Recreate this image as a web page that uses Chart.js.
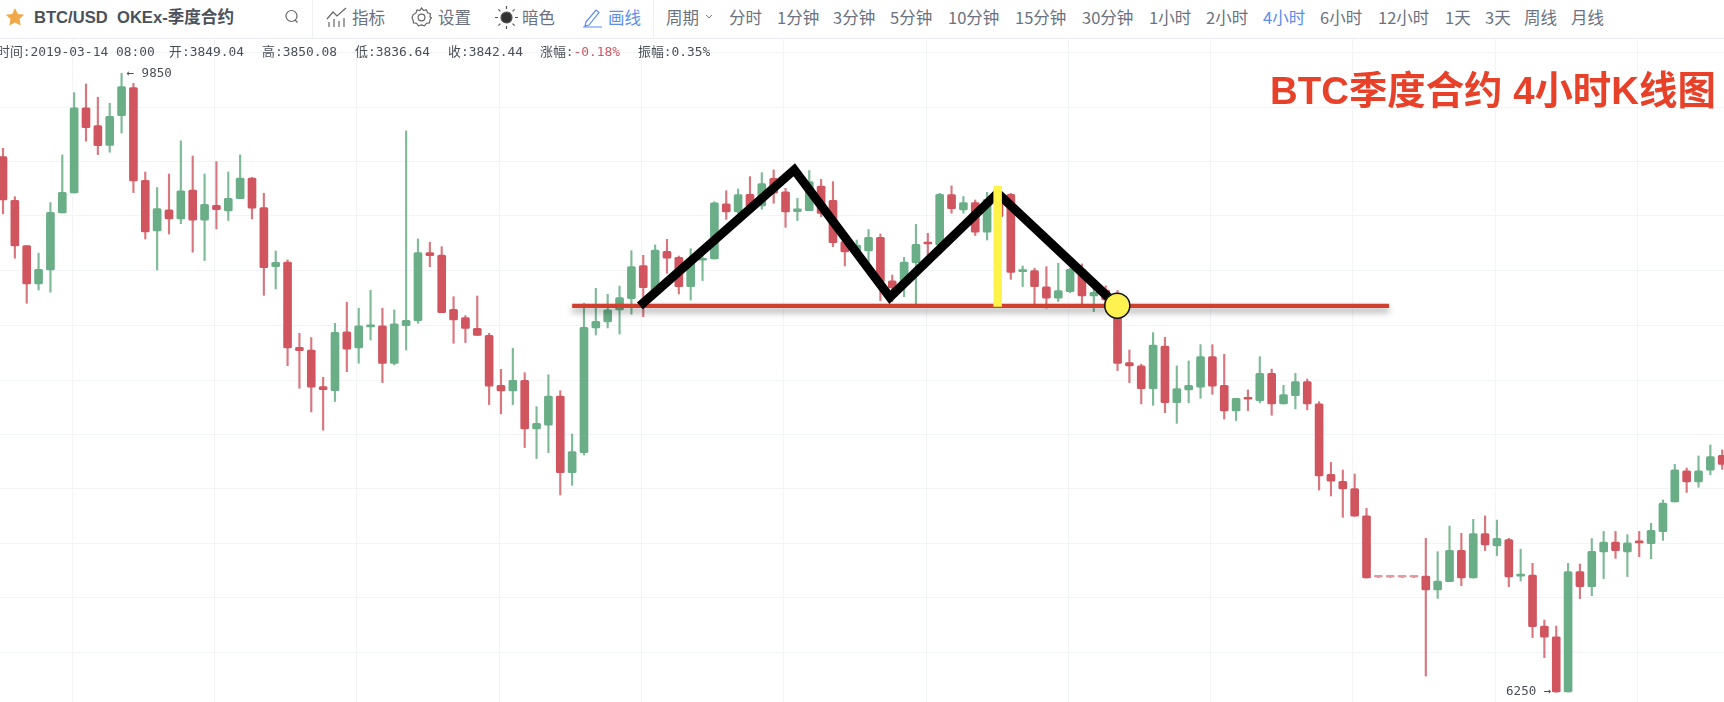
<!DOCTYPE html>
<html>
<head>
<meta charset="utf-8">
<title>BTC季度合约 4小时K线图</title>
<script src="https://cdn.jsdelivr.net/npm/chart.js@4"></script>
<style>
  html, body { margin: 0; padding: 0; background: #fff; width: 1724px; height: 702px; overflow: hidden; }
  #chart { position: absolute; left: 0; top: 39px; }
  #toolbar { position: absolute; left: 0; top: 0; width: 1724px; height: 38px; border-bottom: 1px solid #e9ebf2; background: #fff; }
  .t { position: absolute; white-space: nowrap; font-family: "Noto Sans CJK SC", "Noto Sans", sans-serif; }
  #toolbar .t { top: 6px; font-size: 16.5px; line-height: 23px; color: #6a7280; }
  #toolbar svg { position: absolute; }
  .sep { position: absolute; top: 0; width: 1px; height: 38px; background: #eef0f4; }
  .info { top: 44px; font-family: "DejaVu Sans Mono", "Noto Sans CJK SC", monospace; font-size: 12.9px; line-height: 16px; color: #4a4f57; }
  #title { left: 1270px; top: 64px; font-family: "Liberation Sans", "Noto Sans CJK SC", sans-serif; font-weight: 700; font-size: 38.4px; line-height: 54px; color: #e8412a; }
</style>
</head>
<body>
<canvas id="chart" width="1724" height="663"></canvas>

<div id="toolbar">
  <svg style="left:5px;top:7px" width="20" height="20" viewBox="0 0 20 20"><path d="M10 1l2.8 5.9 6.4.8-4.7 4.4 1.2 6.4L10 15.4l-5.7 3.1 1.2-6.4L.8 7.7l6.4-.8z" fill="#f0a848"/></svg>
  <span class="t" style="left:34px;font-weight:700;font-size:16.6px;color:#4a515b;font-family:'Liberation Sans','Noto Sans CJK SC',sans-serif">BTC/USD&nbsp; OKEx-季度合约</span>
  <svg style="left:284px;top:9px" width="16" height="16" viewBox="0 0 16 16" fill="none" stroke="#666" stroke-width="1.2"><circle cx="7.5" cy="7" r="5.5"/><path d="M11 11l2.5 2.5"/></svg>
  <div class="sep" style="left:312px"></div>
  <svg style="left:326px;top:7px" width="22" height="21" viewBox="0 0 22 21" fill="none" stroke="#666" stroke-width="1.2"><path d="M1 12l6-7 4 4 9-8M3 20v-5M8 20v-8M13 20v-6M18 20v-9"/></svg>
  <span class="t" style="left:352px">指标</span>
  <svg style="left:411px;top:7px" width="21" height="21" viewBox="0 0 21 21" fill="none" stroke="#666" stroke-width="1.2"><path d="M10.5 1l2 2.4 3-.5 1 2.9 3 1-.6 3.2 1.6 1-1.6 2-.4 2.9-3 .3-2 2.7-3-1-3 1-2-2.7-3-.3-.4-2.9L1 11l1.1-3.2 2.9-1.9 1-2.9 3 .5z"/><circle cx="10.5" cy="10.5" r="3.4"/></svg>
  <span class="t" style="left:438px">设置</span>
  <svg style="left:495px;top:6px" width="23" height="23" viewBox="0 0 23 23" fill="none" stroke="#555" stroke-width="1.2"><circle cx="11.5" cy="11.5" r="5.5" fill="#333"/><path d="M11.5 0v3M11.5 20v3M0 11.5h3M20 11.5h3M3.4 3.4l2 2M17.6 17.6l2 2M3.4 19.6l2-2M17.6 5.4l2-2"/></svg>
  <span class="t" style="left:522px">暗色</span>
  <svg style="left:582px;top:7px" width="21" height="21" viewBox="0 0 21 21" fill="none" stroke="#5b8def" stroke-width="1.2"><path d="M4 15L14 3l3 2.5L7 18l-4 1zM1 20h19"/></svg>
  <span class="t" style="left:608px;color:#5b8def">画线</span>
  <div class="sep" style="left:653px"></div>
  <span class="t" style="left:666px">周期</span>
  <svg style="left:705px;top:14px" width="8" height="6" viewBox="0 0 8 6" fill="none" stroke="#777"><path d="M1 1l3 3 3-3"/></svg>
  <span class="t" style="left:729px">分时</span>
  <span class="t" style="left:777px">1分钟</span>
  <span class="t" style="left:833px">3分钟</span>
  <span class="t" style="left:890px">5分钟</span>
  <span class="t" style="left:948px">10分钟</span>
  <span class="t" style="left:1015px">15分钟</span>
  <span class="t" style="left:1082px">30分钟</span>
  <span class="t" style="left:1149px">1小时</span>
  <span class="t" style="left:1206px">2小时</span>
  <span class="t" style="left:1263px;color:#5b8def">4小时</span>
  <span class="t" style="left:1320px">6小时</span>
  <span class="t" style="left:1378px">12小时</span>
  <span class="t" style="left:1445px">1天</span>
  <span class="t" style="left:1485px">3天</span>
  <span class="t" style="left:1524px">周线</span>
  <span class="t" style="left:1571px">月线</span>
</div>

<span class="t info" style="left:-3px">时间:2019-03-14 08:00</span>
<span class="t info" style="left:169px">开:3849.04</span>
<span class="t info" style="left:262px">高:3850.08</span>
<span class="t info" style="left:355px">低:3836.64</span>
<span class="t info" style="left:448px">收:3842.44</span>
<span class="t info" style="left:540px">涨幅:<span style="color:#d0555f">-0.18%</span></span>
<span class="t info" style="left:638px">振幅:0.35%</span>
<span class="t" id="title">BTC季度合约 4小时K线图</span>

<script>
const candleOpen = [
  9366, 9112, 8848, 8625, 8707, 9039, 9155, 9650, 9547, 9432, 9605, 9768, 9229, 8934, 9056, 9004, 9172, 8996, 9083, 9050,
  9122, 9242, 9070, 8726, 8753, 8257, 8241, 8028, 8004, 8346, 8253, 8375, 8381, 8162, 8383, 8412, 8808, 8794, 8478, 8429,
  8367, 8326, 8035, 8002, 8064, 7781, 7803, 7973, 7527, 7643, 8369, 8404, 8474, 8540, 8732, 8581, 8815, 8780, 8610, 8763,
  8771, 9091, 9044, 9147, 9079, 9240, 9161, 9046, 9052, 9195, 9112, 8872, 8804, 8817, 8897, 8643, 8629, 8749, 8866, 8852,
  9145, 9056, 9099, 8926, 9095, 9147, 8697, 8703, 8608, 8542, 8581, 8711, 8556, 8590, 8550, 8167, 8148, 8016, 8264, 7934,
  8008, 8024, 8202, 8035, 7886, 7962, 7946, 8105, 7927, 7975, 8057, 7927, 7517, 7476, 7434, 7275, 6918, 6918, 6918, 6918,
  6925, 6844, 6893, 7075, 6914, 7172, 7100, 7137, 6925, 6931, 6634, 6572, 6250, 6951, 6863, 7065, 7123, 7065, 7125, 7114,
  7183, 7356, 7537, 7473, 7542, 7628
];
const candleHigh = [
  9415, 9133, 8848, 8804, 9099, 9376, 9739, 9789, 9712, 9677, 9851, 9793, 9277, 9186, 9265, 9458, 9370, 9265, 9337, 9277,
  9376, 9246, 9153, 8817, 8765, 8338, 8313, 8082, 8396, 8519, 8484, 8588, 8484, 8474, 9516, 8887, 8868, 8842, 8551, 8441,
  8555, 8338, 8128, 8251, 8109, 7911, 8097, 8004, 7752, 8513, 8600, 8565, 8613, 8819, 8792, 8852, 8885, 8788, 8831, 8784,
  9104, 9168, 9178, 9250, 9273, 9289, 9182, 9124, 9285, 9234, 9221, 8910, 8881, 8943, 8916, 8677, 8780, 8972, 8920, 9153,
  9196, 9134, 9114, 9159, 9134, 9153, 8730, 8717, 8726, 8746, 8717, 8742, 8610, 8614, 8587, 8241, 8158, 8342, 8315, 8148,
  8177, 8272, 8272, 8216, 7960, 8008, 8202, 8130, 8035, 8105, 8072, 7940, 7587, 7542, 7519, 7319, 6918, 6918, 6918, 6918,
  7145, 7067, 7216, 7174, 7255, 7275, 7251, 7145, 7081, 6999, 6669, 6634, 6999, 6995, 7143, 7185, 7185, 7166, 7185, 7232,
  7368, 7575, 7554, 7624, 7688, 7659
];
const candleLow = [
  9033, 8775, 8513, 8590, 8577, 9039, 9155, 9456, 9378, 9392, 9504, 9157, 8887, 8707, 8916, 8976, 8810, 8761, 8945, 8994,
  9122, 9004, 8559, 8596, 8150, 8018, 7880, 7774, 7941, 8115, 8164, 8299, 8051, 8154, 8241, 8396, 8726, 8458, 8280, 8284,
  8326, 7923, 7869, 7923, 7673, 7609, 7643, 7397, 7453, 7630, 8328, 8369, 8334, 8449, 8435, 8560, 8687, 8567, 8532, 8645,
  8771, 9001, 9036, 9066, 9060, 9095, 8955, 8994, 9052, 9017, 8842, 8730, 8784, 8745, 8528, 8522, 8551, 8493, 8784, 8852,
  9037, 9037, 8907, 8881, 8998, 8652, 8610, 8509, 8484, 8523, 8575, 8509, 8464, 8513, 8121, 8051, 7927, 7919, 7876, 7814,
  7934, 7960, 7983, 7839, 7830, 7888, 7933, 7861, 7927, 7898, 7892, 7426, 7391, 7267, 7273, 6914, 6918, 6918, 6918, 6918,
  6343, 6795, 6893, 6869, 6914, 7073, 7044, 6863, 6896, 6567, 6450, 6248, 6250, 6794, 6811, 6910, 7028, 6922, 7038, 7026,
  7133, 7356, 7412, 7442, 7515, 7546
];
const candleClose = [
  9114, 8846, 8625, 8711, 9042, 9159, 9650, 9535, 9430, 9601, 9774, 9225, 8928, 9064, 9004, 9167, 8996, 9089, 9058, 9124,
  9242, 9066, 8720, 8751, 8253, 8237, 8024, 8010, 8344, 8245, 8381, 8381, 8162, 8393, 8414, 8808, 8790, 8458, 8416, 8367,
  8326, 8031, 8002, 8064, 7781, 7814, 7973, 7527, 7649, 8373, 8408, 8474, 8546, 8726, 8604, 8823, 8775, 8610, 8765, 8774,
  9098, 9044, 9145, 9075, 9209, 9153, 9044, 9062, 9221, 9036, 8866, 8811, 8852, 8897, 8639, 8602, 8753, 8856, 8858, 9147,
  9064, 9099, 8926, 9118, 9017, 8693, 8707, 8610, 8542, 8587, 8711, 8556, 8577, 8532, 8163, 8148, 8016, 8270, 7934, 8016,
  8035, 8202, 8031, 7886, 7960, 7954, 8105, 7927, 7981, 8057, 7927, 7508, 7477, 7432, 7273, 6914, 6918, 6918, 6918, 6918,
  6844, 6896, 7075, 6914, 7172, 7106, 7145, 6920, 6931, 6631, 6569, 6250, 6951, 6863, 7069, 7123, 7073, 7118, 7118, 7191,
  7350, 7544, 7473, 7537, 7620, 7575
];

const gridPrices = [9973, 9653, 9339, 9021, 8702, 8385, 8066, 7749, 7433, 7116, 6799, 6481];
const gridCandles = [5.85, 17.85, 29.85, 41.85, 53.85, 65.85, 77.85, 89.85, 101.85, 113.85, 125.85, 137.85];

// hand drawn pattern on top of the candles
const necklineX = [48, 116.9];
const necklineY = [8498, 8498];
const patternX = [53.72, 66.74, 74.8, 83.89, 93.98];
const patternY = [8497, 9290, 8548, 9154, 8499];
const heightX = [83.89, 83.89];
const heightY = [9195, 8493];
const breakX = [93.98];
const breakY = [8499];

const extremeLabels = [
  { text: "← 9850", index: 10, price: 9850, side: "right" },
  { text: "6250 →", index: 131, price: 6250, side: "left" }
];

const UP = "#69ae86";
const DOWN = "#d0555f";
const UP_WICK = "rgba(105,174,134,0.85)";
const DOWN_WICK = "rgba(208,85,95,0.8)";

const isFlat = i => candleHigh[i] === candleLow[i];
const isUp = i => candleClose[i] > candleOpen[i];

const bodies = candleOpen.map((o, i) => ({ x: i, y: [o, candleClose[i]] }));
const wicks = candleOpen.map((o, i) => ({ x: i, y: [candleLow[i], candleHigh[i]] }));
const toPoints = (xs, ys) => xs.map((x, i) => ({ x: x, y: ys[i] }));

// soft shadow under the red neckline
const shadowPlugin = {
  id: "neckShadow",
  beforeDatasetDraw(chart, args) {
    if (chart.data.datasets[args.index].label !== "neckline") return;
    const ctx = chart.ctx;
    ctx.save();
    ctx.shadowColor = "rgba(0,0,0,0.4)";
    ctx.shadowBlur = 7;
    ctx.shadowOffsetY = 4;
  },
  afterDatasetDraw(chart, args) {
    if (chart.data.datasets[args.index].label === "neckline") chart.ctx.restore();
  }
};

const extremePlugin = {
  id: "extremes",
  afterDatasetsDraw(chart) {
    const ctx = chart.ctx;
    ctx.save();
    ctx.font = '12.5px "DejaVu Sans Mono", monospace';
    ctx.fillStyle = "#4a4f57";
    ctx.textBaseline = "middle";
    extremeLabels.forEach(l => {
      const x = chart.scales.x.getPixelForValue(l.index);
      const y = chart.scales.y.getPixelForValue(l.price);
      ctx.textAlign = l.side === "right" ? "left" : "right";
      ctx.fillText(l.text, x + (l.side === "right" ? 5 : -5), y);
    });
    ctx.restore();
  }
};

new Chart(document.getElementById("chart").getContext("2d"), {
  type: "bar",
  data: {
    datasets: [
      {
        type: "line", label: "break", order: 0, data: toPoints(breakX, breakY), showLine: false,
        pointRadius: 12.5, pointBackgroundColor: "#fff250", pointBorderColor: "#111", pointBorderWidth: 1.5
      },
      {
        type: "line", label: "height", order: 1, data: toPoints(heightX, heightY),
        borderColor: "#fff34a", borderWidth: 8.5, pointRadius: 0, borderCapStyle: "butt"
      },
      {
        type: "line", label: "pattern", order: 2, data: toPoints(patternX, patternY),
        borderColor: "#000", borderWidth: 9, pointRadius: 0, tension: 0, borderJoinStyle: "miter", borderCapStyle: "butt"
      },
      {
        type: "line", label: "neckline", order: 3, data: toPoints(necklineX, necklineY),
        borderColor: "#d13f2e", borderWidth: 4.2, pointRadius: 0, borderCapStyle: "butt"
      },
      {
        label: "body", order: 4, data: bodies, grouped: false, barThickness: 8, minBarLength: 2,
        backgroundColor: candleOpen.map((o, i) => isFlat(i) ? "rgba(208,85,95,0.6)" : isUp(i) ? UP : DOWN),
        borderRadius: 1.5, borderSkipped: false
      },
      {
        label: "wick", order: 5, data: wicks, grouped: false, barThickness: 1.5,
        backgroundColor: candleOpen.map((o, i) => isUp(i) ? UP_WICK : DOWN_WICK)
      }
    ]
  },
  options: {
    responsive: false,
    animation: false,
    events: [],
    layout: { padding: 0, autoPadding: false },
    plugins: { legend: { display: false }, tooltip: { enabled: false } },
    scales: {
      x: {
        type: "linear", offset: false, min: -0.253, max: 145.15,
        afterBuildTicks: axis => { axis.ticks = gridCandles.map(v => ({ value: v })); },
        ticks: { display: false },
        border: { display: false },
        grid: { offset: false, color: "#f2f4f8", lineWidth: 1, drawTicks: false }
      },
      y: {
        type: "linear", min: 6192, max: 10051,
        afterBuildTicks: axis => { axis.ticks = gridPrices.map(v => ({ value: v })); },
        ticks: { display: false },
        border: { display: false },
        grid: { color: "#f2f4f8", lineWidth: 1, drawTicks: false }
      }
    }
  },
  plugins: [shadowPlugin, extremePlugin]
});
</script>
</body>
</html>
